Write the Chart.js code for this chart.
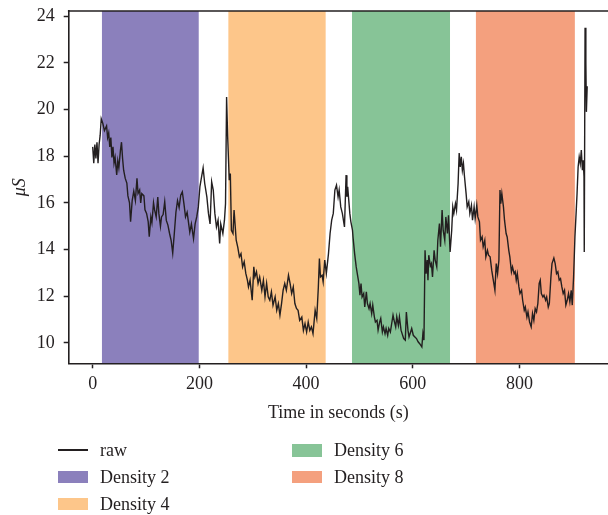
<!DOCTYPE html>
<html>
<head>
<meta charset="utf-8">
<script src="https://cdn.jsdelivr.net/npm/chart.js@4.4.0/dist/chart.umd.min.js"></script>
<style>
  body { margin: 0; background: #fff; }
  #wrap { position: relative; width: 608px; height: 515px; }
  .item { position: absolute; height: 18px; line-height: 18px; display: flex; align-items: center;
          font-family: 'Liberation Serif', 'DejaVu Serif', serif; font-size: 18px; color: #231f20; white-space: nowrap; }
  .swatch { width: 30px; margin-right: 12px; }
</style>
</head>
<body>
<div id="wrap">
  <canvas id="chart" width="608" height="515"></canvas>
  <div id="legend"></div>
</div>
<script>
// raw signal (seconds, microsiemens)
const rawTime = [
  0, 2, 4, 6, 8, 10, 12, 14, 16, 19, 22, 26, 28, 30, 32, 34, 36, 38, 40, 42,
  45, 47, 49, 52, 54, 56, 58, 61, 64, 66, 69, 71, 74, 77, 80, 83, 85, 88, 90, 92,
  96, 98, 101, 104, 106, 109, 111, 114, 116, 119, 122, 124, 127, 129, 132, 135, 138, 141, 144, 147,
  150, 153, 156, 159, 162, 165, 168, 171, 174, 177, 179, 182, 185, 189, 192, 195, 198, 201, 204, 207,
  210, 214, 217, 220, 223, 226, 229, 232, 235, 238, 240, 244, 247, 249, 251, 253, 256, 258, 260, 263,
  265, 269, 272, 275, 278, 281, 284, 287, 290, 292, 295, 299, 302, 304, 307, 310, 313, 317, 320, 323,
  326, 329, 332, 335, 338, 342, 345, 348, 351, 354, 357, 360, 363, 367, 370, 373, 376, 379, 382, 385,
  388, 392, 395, 398, 401, 404, 407, 410, 413, 417, 420, 423, 425, 427, 430, 432, 435, 438, 442, 445,
  448, 451, 454, 457, 460, 462, 465, 468, 472, 475, 476.5, 478, 480, 482, 484, 487, 488, 491, 494, 496,
  499, 501, 503, 505, 508, 510, 513, 515, 518, 520, 523, 525, 528, 530, 533, 535, 538, 540, 543, 545,
  548, 550, 553, 555, 558, 560, 563, 565, 568, 570, 573, 575, 578, 580, 583, 586, 588, 591, 593, 596,
  598, 601, 604, 607, 610, 613, 617, 619, 621, 623, 625, 627, 628.5, 630, 633, 635, 637, 640, 642, 645,
  647, 650, 652, 655, 657, 660, 662, 665, 667, 670, 673, 675, 677, 680, 682, 685, 687, 689, 691, 693,
  695, 697, 700, 702, 705, 707, 710, 712, 715, 717, 720, 722, 725, 727, 730, 732, 735, 737, 740, 742,
  745, 748, 751, 754, 756.5, 759, 761.5, 763.5, 765, 767, 770, 772, 775, 777, 780, 782, 785, 787, 790, 792,
  794, 796, 799, 801, 804, 806, 809, 811, 814, 816, 819, 822, 824.5, 827, 829.5, 832, 834.5, 837, 839, 841,
  844, 846, 849, 851, 854, 856, 859, 861, 864.5, 867, 869.5, 872, 874.5, 877, 879.5, 882, 884.5, 887, 889.5, 892,
  894.5, 897, 899, 901.5, 904, 906.5, 908, 910, 912, 914, 916, 918, 919.5, 921, 921.5, 923, 924.5, 925.5, 927
];
const rawValue = [
  18.4, 17.7, 18.5, 17.9, 18.6, 17.7, 18.5, 18.9, 19.6, 19.4, 19.1, 19.3, 18.8, 19.0, 18.4, 18.8, 17.95, 18.4, 17.7, 17.95,
  17.2, 17.8, 17.5, 18.25, 18.6, 17.9, 17.4, 17.05, 16.85, 16.3, 16.0, 15.2, 16.1, 16.5, 16.1, 17.05, 16.4, 16.55, 16.0, 16.4,
  16.3, 15.7, 15.55, 15.2, 14.55, 15.4, 15.15, 16.0, 15.7, 15.4, 16.25, 15.55, 15.0, 15.4, 15.5, 16.05, 15.25, 15.05, 14.7, 14.4,
  13.85, 14.7, 15.6, 16.1, 15.8, 16.33, 16.47, 15.97, 15.4, 15.6, 15.26, 14.75, 15.1, 14.47, 15.1, 15.4, 15.83, 16.7, 17.1, 17.5,
  16.83, 16.26, 15.55, 15.1, 16.9, 16.55, 15.55, 14.97, 15.26, 14.26, 15.1, 14.69, 15.26, 15.97, 20.54, 18.83, 16.97, 17.26, 14.83, 14.69,
  15.69, 14.4, 14.1, 13.69, 13.83, 13.26, 13.48, 12.98, 12.69, 12.4, 12.69, 11.83, 13.26, 12.83, 13.05, 12.55, 12.83, 12.26, 12.69, 11.98,
  12.55, 11.98, 11.83, 12.19, 11.62, 11.98, 11.4, 11.69, 11.19, 11.69, 12.26, 12.55, 12.26, 12.9, 12.55, 12.12, 12.4, 11.69, 11.48, 11.4,
  10.97, 11.11, 10.54, 10.83, 10.47, 10.9, 10.54, 10.69, 10.4, 11.4, 11.05, 12.4, 13.62, 12.83, 12.9, 12.62, 13.55, 12.98, 13.83, 14.69,
  15.26, 15.55, 16.55, 16.76, 16.26, 16.55, 15.83, 15.55, 14.97, 17.19, 16.26, 16.69, 16.12, 15.55, 15.19, 14.83, 14.54, 13.83, 13.26, 12.97,
  12.55, 12.05, 12.55, 11.97, 12.12, 11.54, 12.19, 11.69, 11.47, 11.69, 11.26, 11.62, 11.12, 10.9, 10.97, 10.55, 10.9, 11.05, 10.47, 10.69,
  10.4, 10.62, 10.33, 10.62, 10.47, 10.76, 11.19, 10.97, 10.69, 11.12, 10.76, 11.12, 10.55, 10.4, 10.19, 10.12, 11.33, 10.55, 10.26, 10.47,
  10.62, 10.33, 10.26, 10.19, 10.05, 9.97, 9.83, 10.4, 10.12, 13.97, 12.97, 13.55, 12.69, 13.76, 13.3, 13.4, 12.83, 13.97, 13.55, 13.26,
  14.4, 15.12, 14.12, 15.69, 14.83, 14.4, 15.4, 14.69, 15.47, 13.9, 14.83, 15.83, 15.55, 15.97, 15.69, 16.83, 18.14, 17.54, 17.97, 17.4,
  17.69, 17.12, 16.4, 15.83, 16.05, 15.55, 15.9, 15.26, 15.83, 15.33, 15.9, 15.4, 15.19, 14.4, 14.55, 14.12, 14.4, 13.69, 13.97, 13.76,
  13.69, 13.12, 12.69, 12.26, 13.4, 12.97, 13.55, 16.55, 15.97, 16.4, 15.83, 15.26, 14.69, 14.54, 13.97, 13.69, 13.05, 13.26, 12.97, 13.05,
  12.69, 12.97, 12.4, 12.12, 12.26, 11.83, 11.4, 11.54, 11.11, 11.33, 10.9, 10.69, 11.26, 10.97, 11.47, 11.33, 11.69, 12.55, 12.69, 12.12,
  11.97, 12.05, 11.83, 11.97, 11.54, 11.69, 12.83, 13.4, 13.64, 13.4, 12.97, 13.05, 12.69, 12.76, 12.4, 12.12, 12.26, 11.62, 11.83, 12.12,
  11.76, 12.26, 11.62, 12.83, 14.54, 15.69, 16.4, 17.54, 17.97, 17.69, 18.26, 17.4, 17.83, 17.12, 13.9, 23.5, 22.0, 19.9, 21.0
];

// density phases (start / end in seconds)
const bandLabels = ['Density 2', 'Density 4', 'Density 6', 'Density 8'];
const bandStart = [17, 254, 486, 718];
const bandEnd = [199, 437, 670, 904];
const bandColors = ['#8b80bc', '#fdc68a', '#87c497', '#f4a07e'];

const xTicks = [0, 200, 400, 600, 800];
const yTicks = [10, 12, 14, 16, 18, 20, 22, 24];
const xMin = -45, xMax = 966;
const yMin = 9.13, yMax = 24.22;

const ink = '#231f20';
const fontFamily = "'Liberation Serif', 'DejaVu Serif', serif";

const datasets = [{
  label: 'raw',
  data: rawTime.map((t, i) => ({ x: t, y: rawValue[i] })),
  borderColor: ink,
  borderWidth: 1.4,
  pointRadius: 0,
  tension: 0,
  fill: false,
  order: 0
}];

bandLabels.forEach((name, i) => {
  datasets.push({
    label: name,
    data: [{ x: bandStart[i], y: yMax }, { x: bandEnd[i], y: yMax }],
    borderWidth: 0,
    borderColor: 'rgba(0,0,0,0)',
    backgroundColor: bandColors[i],
    pointRadius: 0,
    fill: 'start',
    order: 1
  });
});

const topBorder = {
  id: 'topBorder',
  afterDatasetsDraw(chart) {
    const { ctx, chartArea } = chart;
    ctx.save();
    ctx.strokeStyle = ink;
    ctx.lineWidth = 1.6;
    ctx.beginPath();
    ctx.moveTo(chartArea.left - 0.8, chartArea.top);
    ctx.lineTo(chartArea.right, chartArea.top);
    ctx.stroke();
    ctx.restore();
  }
};

new Chart(document.getElementById('chart'), {
  type: 'line',
  data: { datasets },
  plugins: [topBorder],
  options: {
    responsive: false,
    animation: false,
    layout: { padding: { left: 0, top: 11, right: 0, bottom: 91.2 } },
    plugins: { legend: { display: false }, tooltip: { enabled: false } },
    scales: {
      x: {
        type: 'linear',
        min: xMin,
        max: xMax,
        afterBuildTicks: s => { s.ticks = xTicks.map(v => ({ value: v })); },
        afterFit: s => { s.height = 60.5; s.paddingLeft = 0; s.paddingRight = 0; },
        grid: { drawOnChartArea: false, drawTicks: true, tickLength: 5, tickWidth: 1.5, tickColor: ink },
        border: { display: true, color: ink, width: 1.6 },
        ticks: { color: ink, padding: 5, maxRotation: 0, autoSkip: false, font: { family: fontFamily, size: 18 } },
        title: { display: true, text: 'Time in seconds (s)', color: ink, padding: { top: 0, bottom: 0 },
                 font: { family: fontFamily, size: 18 } }
      },
      y: {
        type: 'linear',
        min: yMin,
        max: yMax,
        afterBuildTicks: s => { s.ticks = yTicks.map(v => ({ value: v })); },
        afterFit: s => { s.width = 68.7; s.paddingTop = 0; s.paddingBottom = 0; },
        grid: { drawOnChartArea: false, drawTicks: true, tickLength: 5, tickWidth: 1.5, tickColor: ink },
        border: { display: true, color: ink, width: 1.6 },
        ticks: { color: ink, padding: 9, font: { family: fontFamily, size: 18 } },
        title: { display: true, text: 'μS', color: ink, padding: { top: 9, bottom: 0 },
                 font: { family: fontFamily, size: 18, style: 'italic' } }
      }
    }
  }
});

// legend in two columns, filled column by column like the original
const legendItems = [{ label: 'raw', line: true, color: ink }]
  .concat(bandLabels.map((l, i) => ({ label: l, line: false, color: bandColors[i] })));
const legend = document.getElementById('legend');
legendItems.forEach((it, i) => {
  const col = i < 3 ? 0 : 1;
  const row = i < 3 ? i : i - 3;
  const div = document.createElement('div');
  div.className = 'item';
  div.style.left = (col === 0 ? 58 : 292) + 'px';
  div.style.top = (441.4 + row * 26.7) + 'px';
  const sw = document.createElement('span');
  sw.className = 'swatch';
  sw.style.height = it.line ? '2px' : '12.5px';
  sw.style.background = it.color;
  const txt = document.createElement('span');
  txt.textContent = it.label;
  div.appendChild(sw);
  div.appendChild(txt);
  legend.appendChild(div);
});
</script>
</body>
</html>
